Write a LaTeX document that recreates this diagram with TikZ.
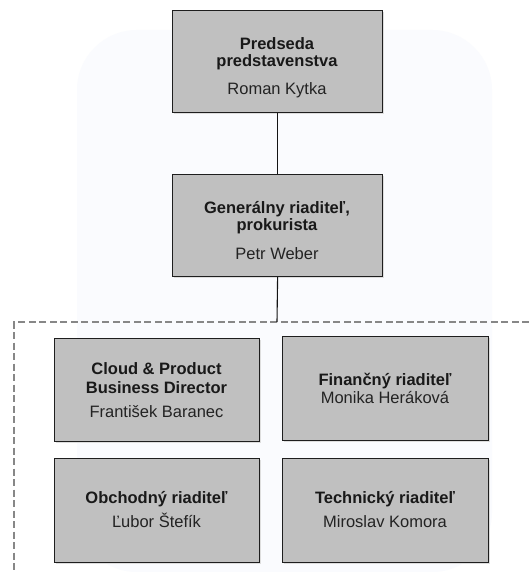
\documentclass[tikz,border=0pt]{standalone}
\usepackage{fontspec}
\setmainfont{Liberation Sans}
\definecolor{boxline}{RGB}{30,30,30}
\definecolor{boxfill}{RGB}{192,192,192}
\definecolor{shadowc}{RGB}{222,222,222}
\definecolor{boldtext}{RGB}{25,25,25}
\definecolor{regtext}{RGB}{35,35,35}
\definecolor{connc}{RGB}{20,20,20}
\definecolor{dashc}{RGB}{135,135,135}
\definecolor{wmark}{RGB}{250,251,254}
\begin{document}
\begin{tikzpicture}[x=1pt,y=-1pt,
  box/.style={draw=boxline,line width=1.2pt,fill=boxfill,
    minimum width=#1,inner sep=0pt,anchor=north west},
  bt/.style={anchor=base,inner sep=0pt,font=\fontsize{16.5}{18}\selectfont\bfseries,text=boldtext},
  rt/.style={anchor=base,inner sep=0pt,font=\fontsize{16.5}{18}\selectfont,text=regtext},
  conn/.style={draw=connc,line width=1.1pt},
  dashline/.style={draw=dashc,line width=1.3pt,dash pattern=on 7pt off 3.5pt}]
\useasboundingbox (0,0) rectangle (529,572);
\fill[white] (0,0) rectangle (529,572);
% faint background watermark
\fill[wmark,rounded corners=60pt] (77,30) rectangle (492,572);
% shadows
\foreach \a/\b/\c/\d in {172/10/382/112, 172/174/382/276, 54/338/259/441, 282/336/488/440, 54/458/259/562, 282/458/488/562}
  \fill[shadowc] (\a+2,\b+2) rectangle (\c+2,\d+2);
% boxes
\node[box=210pt,minimum height=102pt] (b1) at (172,10) {};
\node[box=210pt,minimum height=102pt] (b2) at (172,174) {};
\node[box=205pt,minimum height=103pt] (b3) at (54,338) {};
\node[box=206pt,minimum height=104pt] (b4) at (282,336) {};
\node[box=205pt,minimum height=104pt] (b5) at (54,458) {};
\node[box=206pt,minimum height=104pt] (b6) at (282,458) {};
% texts
\node[bt] (t1a) at (277,50) {Predseda};
\node[bt] (t1b) at (277,67) {predstavenstva};
\node[rt] (t1c) at (277,95) {Roman Kytka};
\node[bt] (t2a) at (277,213) {Generálny riaditeľ,};
\node[bt] (t2b) at (277,230.5) {prokurista};
\node[rt] (t2c) at (277,259) {Petr Weber};
\node[bt] (t3a) at (156.5,374) {Cloud \& Product};
\node[bt] (t3b) at (156.5,393) {Business Director};
\node[rt] (t3c) at (156.5,417) {František Baranec};
\node[bt] (t4a) at (385,385) {Finančný riaditeľ};
\node[rt] (t4b) at (385,403) {Monika Heráková};
\node[bt] (t5a) at (156.5,503) {Obchodný riaditeľ};
\node[rt] (t5b) at (156.5,527) {Ľubor Štefík};
\node[bt] (t6a) at (385,503) {Technický riaditeľ};
\node[rt] (t6b) at (385,527) {Miroslav Komora};
% dashed frame
\coordinate (dj) at (277,322);
\coordinate (dl) at (14,322);
\coordinate (dr) at (529,322);
\coordinate (db) at (14,572);
\draw[dashline] (dr) -- (dl) -- (db);
% connectors
\draw[conn] (b1.south) -- (b2.north);
\draw[conn] (b2.south) -- (dj);
\end{tikzpicture}
\end{document}
